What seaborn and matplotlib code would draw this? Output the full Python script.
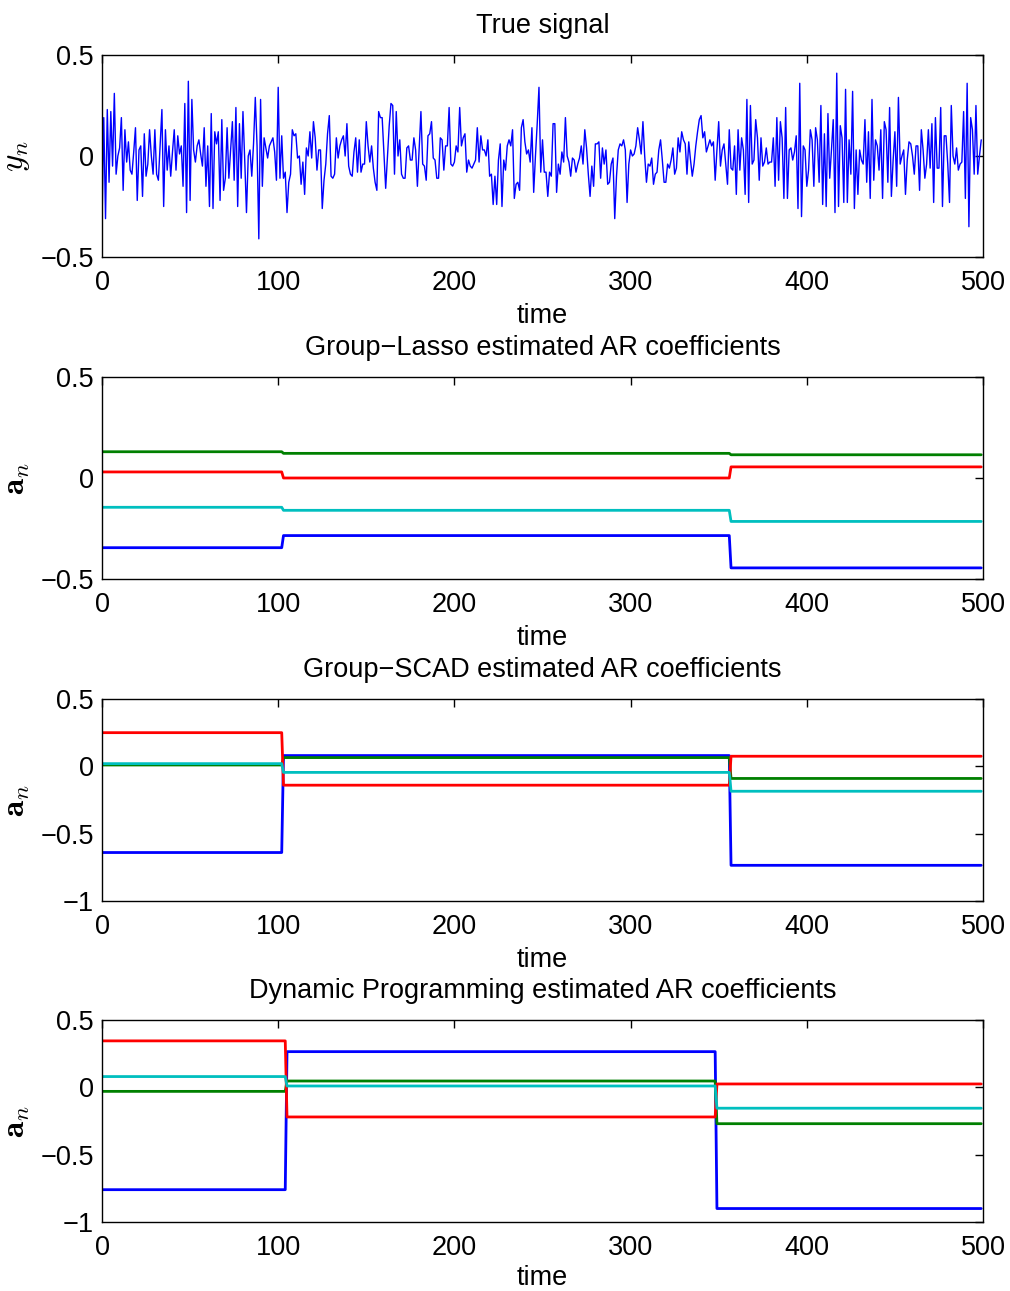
import numpy as np
import pandas as pd
import matplotlib
matplotlib.use("Agg")
import matplotlib.pyplot as plt
from matplotlib.ticker import FuncFormatter, MultipleLocator
import seaborn as sns

# ---------------- data ----------------
signal_0_99 = [
    -0.34, 0.19, -0.31, 0.23, -0.13, 0.22, -0.05, 0.31, -0.09, 0.00,
    0.04, 0.19, -0.17, 0.13, -0.03, 0.07, -0.07, -0.09, 0.02, 0.14,
    -0.22, 0.03, 0.05, -0.20, 0.11, -0.10, -0.04, 0.13, 0.00, -0.09,
    0.13, -0.09, -0.12, 0.06, 0.23, -0.25, 0.13, -0.07, 0.05, -0.10,
    0.02, 0.13, -0.07, 0.10, 0.01, 0.05, -0.15, 0.26, -0.28, 0.37,
    -0.22, 0.28, 0.03, -0.03, 0.05, 0.08, 0.01, -0.05, 0.14, -0.15,
    0.05, -0.25, 0.21, -0.26, 0.12, 0.06, 0.12, -0.22, 0.18, -0.17,
    -0.11, 0.14, -0.11, 0.03, 0.17, -0.12, 0.24, -0.25, 0.16, -0.11,
    0.22, -0.02, -0.28, 0.00, 0.03, -0.10, 0.06, 0.29, 0.05, -0.41,
    0.28, -0.15, 0.09, 0.04, -0.01, 0.05, 0.07, 0.09, 0.02, -0.12,
]
signal_100_199 = [
    0.34, -0.11, 0.10, -0.11, -0.08, -0.28, -0.13, -0.09, 0.13, 0.10,
    0.11, -0.01, 0.00, -0.14, -0.03, -0.19, 0.04, 0.00, 0.12, -0.01,
    0.17, 0.09, -0.07, 0.03, 0.03, -0.26, -0.12, -0.04, 0.11, 0.20,
    -0.10, -0.11, -0.09, 0.09, -0.01, 0.05, 0.08, 0.10, 0.00, 0.16,
    -0.05, -0.09, -0.10, 0.02, 0.09, -0.08, 0.08, -0.08, -0.04, -0.04,
    0.17, 0.05, -0.03, 0.05, -0.06, -0.13, -0.17, 0.22, 0.19, 0.19,
    0.01, -0.16, 0.00, 0.15, 0.26, 0.25, -0.09, 0.22, 0.00, 0.08,
    -0.09, -0.11, -0.11, 0.04, 0.05, -0.02, -0.02, 0.09, 0.03, -0.15,
    0.03, 0.22, -0.04, -0.05, -0.12, 0.10, 0.11, 0.17, -0.01, -0.02,
    -0.11, -0.11, 0.09, 0.08, -0.07, 0.05, 0.05, 0.24, -0.04, -0.05,
]
signal_200_305 = [
    -0.03, 0.05, 0.02, 0.24, 0.05, 0.09, 0.11, -0.08, -0.02, -0.05,
    -0.06, -0.04, -0.02, 0.14, -0.03, 0.10, 0.03, 0.03, 0.00, 0.08,
    -0.10, -0.09, -0.24, -0.10, -0.24, -0.02, 0.06, -0.25, -0.02, -0.07,
    0.05, 0.08, 0.05, 0.13, -0.21, -0.14, -0.13, -0.17, 0.14, 0.18,
    0.07, 0.01, 0.03, -0.03, 0.14, -0.18, 0.00, 0.16, 0.34, -0.08,
    0.08, -0.08, -0.08, -0.20, -0.08, -0.10, 0.16, 0.16, -0.18, -0.04,
    -0.09, 0.02, -0.03, 0.19, 0.00, -0.03, -0.10, -0.01, -0.02, -0.08,
    -0.04, -0.01, 0.05, -0.04, 0.13, 0.04, -0.09, -0.20, -0.05, -0.15,
    0.06, 0.06, 0.07, -0.11, 0.04, -0.04, 0.03, -0.14, -0.13, -0.04,
    -0.01, -0.31, -0.10, 0.03, 0.06, 0.05, 0.08, 0.03, -0.23, -0.04,
    0.03, 0.00, 0.01, 0.05, 0.14, 0.08,
]
signal_306_405 = [
    0.01, 0.17, 0.00, -0.13, -0.04, -0.05, -0.01, -0.14, -0.09, -0.08,
    0.03, 0.08, -0.02, -0.13, -0.13, -0.04, -0.06, -0.02, 0.04, -0.09,
    -0.06, 0.09, 0.02, 0.12, 0.08, 0.06, -0.09, 0.07, -0.02, -0.10,
    -0.04, 0.05, 0.12, 0.18, 0.20, 0.09, 0.12, 0.02, 0.05, 0.08,
    0.05, 0.07, -0.12, 0.03, 0.17, -0.05, 0.03, 0.06, -0.04, -0.14,
    0.13, -0.06, -0.07, 0.05, -0.19, 0.13, -0.07, 0.09, 0.03, -0.19,
    0.28, -0.23, 0.25, -0.04, -0.02, 0.18, 0.09, -0.12, 0.09, -0.05,
    -0.03, 0.04, -0.04, -0.03, -0.03, 0.09, -0.15, 0.19, -0.12, 0.17,
    0.09, -0.21, 0.24, -0.21, 0.03, 0.04, -0.02, 0.02, 0.10, -0.26,
    0.36, -0.30, 0.05, 0.03, -0.15, -0.07, 0.13, 0.08, -0.15, 0.14,
]
signal_406_499 = [
    0.08, -0.13, 0.25, -0.24, 0.11, -0.25, 0.21, -0.11, 0.03, 0.18,
    -0.28, 0.41, -0.25, 0.15, 0.09, -0.23, 0.33, -0.23, 0.08, -0.09,
    0.32, -0.26, 0.03, -0.19, 0.03, -0.02, -0.04, 0.18, -0.13, 0.12,
    -0.21, 0.28, -0.12, 0.08, 0.05, -0.07, 0.13, -0.21, 0.17, 0.13,
    -0.13, 0.24, -0.20, -0.02, 0.12, -0.15, 0.29, -0.04, 0.00, 0.03,
    -0.19, -0.02, 0.07, 0.06, 0.00, -0.09, 0.05, 0.05, -0.17, 0.13,
    0.03, -0.11, -0.04, 0.13, -0.06, 0.16, -0.23, 0.19, -0.06, -0.06,
    0.24, -0.25, 0.10, 0.10, -0.04, -0.23, 0.25, 0.00, -0.04, 0.04,
    -0.07, -0.04, -0.03, 0.22, -0.21, 0.36, -0.35, 0.19, 0.13, -0.09,
    0.25, -0.09, 0.00, 0.08,
]

# AR coefficient estimates: first sample index of each segment + level per segment
lasso_starts = [0, 103, 357]
lasso_blue = [-0.345, -0.285, -0.445]
lasso_green = [0.13, 0.122, 0.115]
lasso_red = [0.03, 0.0, 0.055]
lasso_cyan = [-0.145, -0.16, -0.215]

scad_starts = [0, 103, 357]
scad_blue = [-0.64, 0.08, -0.735]
scad_green = [0.01, 0.065, -0.09]
scad_red = [0.25, -0.14, 0.075]
scad_cyan = [0.02, -0.045, -0.185]

dp_starts = [0, 105, 349]
dp_blue = [-0.76, 0.265, -0.90]
dp_green = [-0.03, 0.047, -0.27]
dp_red = [0.345, -0.22, 0.025]
dp_cyan = [0.08, 0.01, -0.155]

N = 500
titles = ["True signal",
          "Group\u2212Lasso estimated AR coefficients",
          "Group\u2212SCAD estimated AR coefficients",
          "Dynamic Programming estimated AR coefficients"]
colors = {"blue": "#0000ff", "green": "#008000", "red": "#ff0000", "cyan": "#00bfbf"}

# ---------------- build ----------------
signal = np.array(signal_0_99 + signal_100_199 + signal_200_305 + signal_306_405 + signal_406_499)
time = np.arange(len(signal))


def piecewise(starts, levels):
    lens = np.diff(list(starts) + [N])
    return np.repeat(levels, lens)


coef_sets = [
    (lasso_starts, {"blue": lasso_blue, "green": lasso_green, "red": lasso_red, "cyan": lasso_cyan}),
    (scad_starts, {"blue": scad_blue, "green": scad_green, "red": scad_red, "cyan": scad_cyan}),
    (dp_starts, {"blue": dp_blue, "green": dp_green, "red": dp_red, "cyan": dp_cyan}),
]

# ---------------- plot ----------------
sns.set_theme(style="white")
plt.rcParams["font.family"] = ["Liberation Sans", "DejaVu Sans"]
plt.rcParams["mathtext.fontset"] = "cm"
plt.rcParams["axes.unicode_minus"] = True
plt.rcParams["text.color"] = "black"
plt.rcParams["axes.labelcolor"] = "black"

W, H = 1010, 1291
fig = plt.figure(figsize=(W / 100, H / 100), dpi=100)
fig.patch.set_facecolor("white")

left, right = 102, 983
tops = [55, 377, 699, 1020]
bots = [257, 579, 901, 1222]
axes = []
for t, b in zip(tops, bots):
    ax = fig.add_axes([left / W, 1 - b / H, (right - left) / W, (b - t) / H])
    axes.append(ax)

fmt = FuncFormatter(lambda v, _: f"{v:g}".replace("-", "\u2212"))
FS = 19.5
YFS = 24

# top signal
df_sig = pd.DataFrame({"time": time, "y": signal})
sns.lineplot(data=df_sig, x="time", y="y", ax=axes[0], color="#0000ff",
             linewidth=1.0, estimator=None)
axes[0].set_ylim(-0.5, 0.5)
axes[0].set_ylabel("$y_n$", fontsize=YFS, color="black")

for ax, (starts, series) in zip(axes[1:], coef_sets):
    for name in ["blue", "green", "red", "cyan"]:
        df = pd.DataFrame({"time": np.arange(N), "a": piecewise(starts, series[name])})
        sns.lineplot(data=df, x="time", y="a", ax=ax, color=colors[name],
                     linewidth=2.0, estimator=None)
    ax.set_ylabel(r"$\mathbf{a}_n$", fontsize=YFS, color="black")

axes[1].set_ylim(-0.5, 0.5)
axes[2].set_ylim(-1, 0.5)
axes[3].set_ylim(-1, 0.5)

for i, (ax, title) in enumerate(zip(axes, titles)):
    ax.set_xlim(0, 500)
    ax.xaxis.set_major_locator(MultipleLocator(100))
    ax.yaxis.set_major_locator(MultipleLocator(0.5))
    ax.xaxis.set_major_formatter(fmt)
    ax.yaxis.set_major_formatter(fmt)
    ax.set_xlabel("time", fontsize=FS, labelpad=(5 if i < 3 else 3), color="black")
    ax.set_title(title, fontsize=FS, pad=16, color="black")
    ax.yaxis.set_label_coords(-0.079, 0.5)
    ax.tick_params(axis="both", which="major", direction="in", length=6, width=1,
                   top=True, right=True, labelsize=FS, colors="black")
    ax.tick_params(axis="x", pad=9.5)
    ax.tick_params(axis="y", pad=6)
    for sp in ax.spines.values():
        sp.set_visible(True)
        sp.set_color("black")
        sp.set_linewidth(1.0)
    ax.set_facecolor("white")

fig.savefig("out.png", dpi=100, facecolor="white")
